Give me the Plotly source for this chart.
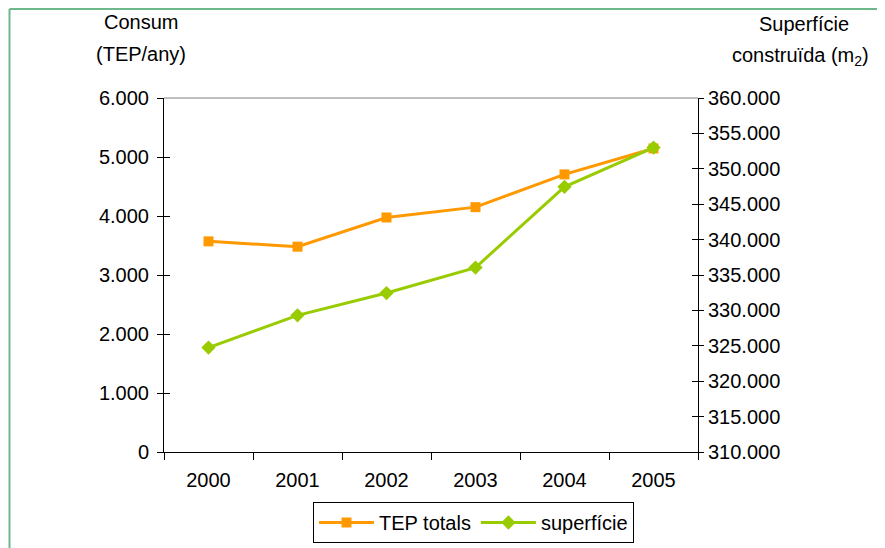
import plotly.graph_objects as go

years = ["2000", "2001", "2002", "2003", "2004", "2005"]
tep_totals = [3570, 3480, 3975, 4150, 4705, 5145]
superficie = [324750, 329300, 332450, 336050, 347450, 353000]

# page body has an 8px margin, so the figure starts at (8, 8) on screen
OFF = 8
W, H = 885 - OFF, 548 - OFF
L, R, T, B = 164 - OFF, 698 - OFF, 98 - OFF, 452 - OFF
ML, MR, MT, MB = L, W - R, T, H - B
PW, PH = R - L, B - T


def px(x):
    return (x - OFF - L) / PW


def py(y):
    return (B - (y - OFF)) / PH


def cx(x):
    return (x - OFF) / W


def cy(y):
    return 1 - (y - OFF) / H


FONT = "Liberation Sans, Arial, sans-serif"
ORANGE = "#FF9900"
GREEN = "#99CC00"
FS = 20

fig = go.Figure()
fig.add_trace(go.Scatter(
    x=years, y=tep_totals, name="TEP totals", mode="lines+markers",
    line=dict(color=ORANGE, width=3),
    marker=dict(symbol="square", size=10, color=ORANGE),
    yaxis="y"))
fig.add_trace(go.Scatter(
    x=years, y=superficie, name="superfície", mode="lines+markers",
    line=dict(color=GREEN, width=3),
    marker=dict(symbol="diamond", size=11, color=GREEN),
    yaxis="y2"))

fig.update_layout(
    width=W, height=H,
    margin=dict(l=ML, r=MR, t=MT, b=MB, pad=0),
    paper_bgcolor="white", plot_bgcolor="white",
    separators=",.",
    font=dict(family=FONT, size=FS, color="black"),
    showlegend=True,
    legend=dict(
        orientation="h", xref="container", yref="container",
        x=cx(313), y=cy(502), xanchor="left", yanchor="top",
        bordercolor="black", borderwidth=1, bgcolor="white",
        font=dict(family=FONT, size=FS, color="black"),
        tracegroupgap=0, itemwidth=55,
    ),
    xaxis=dict(
        type="category", range=[-0.5, 5.5], tickson="boundaries",
        ticks="outside", ticklen=7, tickcolor="black", tickwidth=1,
        showline=True, linecolor="black", linewidth=1,
        showgrid=False, zeroline=False, ticklabelstandoff=10,
        automargin=False,
    ),
    yaxis=dict(
        range=[0, 6000], dtick=1000, tick0=0, tickformat=",d",
        ticks="outside", ticklen=6, tickcolor="black",
        showline=True, linecolor="black", linewidth=1,
        showgrid=False, zeroline=False, ticklabelstandoff=4,
        automargin=False,
    ),
    yaxis2=dict(
        range=[310000, 360000], dtick=5000, tick0=310000, tickformat=",d",
        overlaying="y", side="right",
        ticks="outside", ticklen=5, tickcolor="black",
        showline=True, linecolor="black", linewidth=1,
        showgrid=False, zeroline=False, ticklabelstandoff=0,
        automargin=False,
    ),
    yaxis3=dict(
        range=[0, 6000], dtick=1000, tick0=0, overlaying="y", side="left",
        ticks="inside", ticklen=6, tickcolor="black", showticklabels=False,
        showline=False, showgrid=False, zeroline=False, automargin=False,
    ),
    yaxis4=dict(
        range=[310000, 360000], dtick=5000, tick0=310000, overlaying="y",
        side="right", ticks="inside", ticklen=6, tickcolor="black",
        showticklabels=False, showline=False, showgrid=False, zeroline=False,
        automargin=False,
    ),
)

# invisible traces to activate the overlay tick axes
fig.add_trace(go.Scatter(x=[years[0]], y=[None], yaxis="y3", showlegend=False,
                         hoverinfo="skip", mode="markers"))
fig.add_trace(go.Scatter(x=[years[0]], y=[None], yaxis="y4", showlegend=False,
                         hoverinfo="skip", mode="markers"))

# plot area top border (grey)
fig.add_shape(type="line", xref="paper", yref="paper", x0=0, x1=1, y0=1, y1=1,
              line=dict(color="#808080", width=1))

# outer chart border (green), top and left edges visible
fig.add_shape(type="line", xref="paper", yref="paper",
              x0=px(9.5), x1=px(900), y0=py(9), y1=py(9),
              line=dict(color="#6DB88A", width=2))
fig.add_shape(type="line", xref="paper", yref="paper",
              x0=px(9.5), x1=px(9.5), y0=py(9), y1=py(560),
              line=dict(color="#6DB88A", width=2))

ann = [
    ("Consum", 141, 22),
    ("(TEP/any)", 141, 54),
    ("Superfície", 804, 24),
    ("construïda (m<sub>2</sub>)", 800, 56),
]
for text, x, y in ann:
    fig.add_annotation(text=text, xref="paper", yref="paper", x=px(x), y=py(y),
                       xanchor="center", yanchor="middle", showarrow=False,
                       font=dict(family=FONT, size=20, color="black"))

fig.write_html("out.html")
